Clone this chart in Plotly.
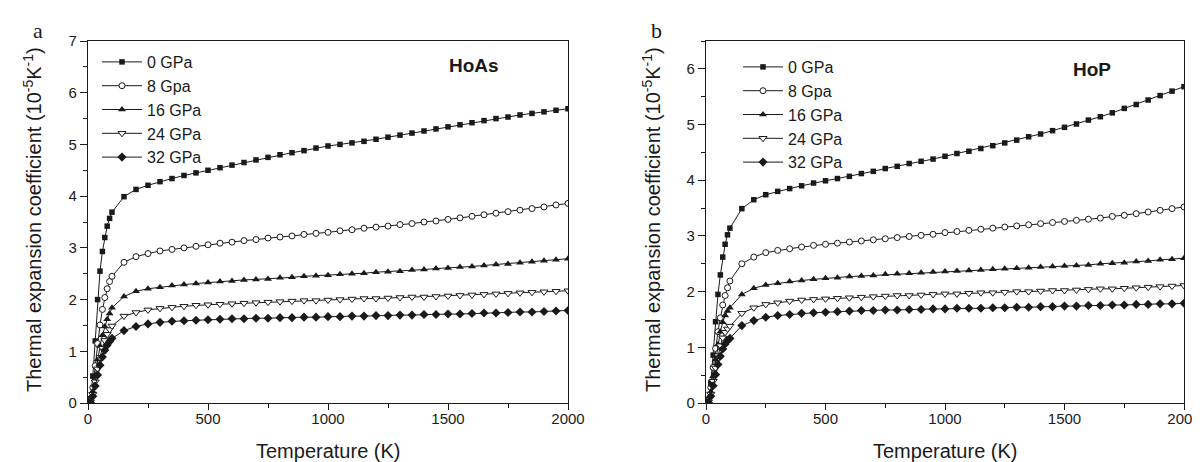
import plotly.graph_objects as go

# ---------------- data ----------------
temperature = [0, 10, 20, 30, 40, 50, 60, 70, 80, 90, 100,
               150, 200, 250, 300, 350, 400, 450, 500, 550, 600,
               650, 700, 750, 800, 850, 900, 950, 1000, 1050, 1100,
               1150, 1200, 1250, 1300, 1350, 1400, 1450, 1500, 1550, 1600,
               1650, 1700, 1750, 1800, 1850, 1900, 1950, 2000]

series_names = ["0 GPa", "8 Gpa", "16 GPa", "24 GPa", "32 GPa"]

hoas_0 = [0, 0.08, 0.52, 1.20, 2.00, 2.55, 2.93, 3.20, 3.42, 3.57, 3.69,
          3.99, 4.13, 4.21, 4.28, 4.34, 4.40, 4.45, 4.50, 4.55, 4.60,
          4.65, 4.70, 4.75, 4.80, 4.84, 4.88, 4.93, 4.97, 5.00, 5.03,
          5.06, 5.10, 5.14, 5.18, 5.22, 5.26, 5.30, 5.34, 5.38, 5.42,
          5.46, 5.50, 5.53, 5.57, 5.60, 5.63, 5.66, 5.69]
hoas_8 = [0, 0.04, 0.30, 0.72, 1.15, 1.51, 1.81, 2.04, 2.21, 2.35, 2.45,
          2.72, 2.83, 2.89, 2.94, 2.97, 3.00, 3.03, 3.06, 3.09, 3.11,
          3.14, 3.16, 3.19, 3.21, 3.23, 3.26, 3.28, 3.30, 3.33, 3.35,
          3.38, 3.40, 3.42, 3.45, 3.47, 3.50, 3.52, 3.55, 3.58, 3.61,
          3.64, 3.67, 3.70, 3.73, 3.76, 3.79, 3.83, 3.86]
hoas_16 = [0, 0.03, 0.22, 0.52, 0.84, 1.10, 1.31, 1.48, 1.62, 1.73, 1.84,
           2.06, 2.16, 2.21, 2.24, 2.27, 2.29, 2.31, 2.33, 2.35, 2.36,
           2.38, 2.39, 2.40, 2.42, 2.43, 2.45, 2.46, 2.47, 2.49, 2.50,
           2.51, 2.53, 2.54, 2.55, 2.57, 2.58, 2.60, 2.61, 2.63, 2.64,
           2.66, 2.68, 2.69, 2.71, 2.73, 2.75, 2.77, 2.79]
hoas_24 = [0, 0.02, 0.17, 0.41, 0.66, 0.88, 1.06, 1.21, 1.33, 1.42, 1.49,
           1.68, 1.75, 1.80, 1.83, 1.85, 1.87, 1.89, 1.90, 1.91, 1.92,
           1.93, 1.94, 1.95, 1.96, 1.97, 1.98, 1.98, 1.99, 2.00, 2.01,
           2.02, 2.02, 2.03, 2.04, 2.05, 2.05, 2.06, 2.07, 2.08, 2.09,
           2.10, 2.11, 2.12, 2.13, 2.14, 2.15, 2.16, 2.17]
hoas_32 = [0, 0.01, 0.13, 0.33, 0.54, 0.73, 0.89, 1.02, 1.12, 1.19, 1.25,
           1.40, 1.48, 1.53, 1.56, 1.58, 1.59, 1.60, 1.61, 1.62, 1.63,
           1.63, 1.64, 1.64, 1.65, 1.65, 1.66, 1.66, 1.67, 1.67, 1.68,
           1.68, 1.69, 1.69, 1.70, 1.70, 1.71, 1.71, 1.72, 1.72, 1.73,
           1.74, 1.74, 1.75, 1.76, 1.76, 1.77, 1.78, 1.79]

hop_0 = [0, 0.06, 0.36, 0.86, 1.46, 1.95, 2.30, 2.62, 2.85, 3.02, 3.14,
         3.49, 3.65, 3.74, 3.80, 3.85, 3.90, 3.95, 3.99, 4.03, 4.07,
         4.12, 4.16, 4.21, 4.25, 4.30, 4.34, 4.38, 4.43, 4.48, 4.52,
         4.57, 4.62, 4.67, 4.72, 4.78, 4.83, 4.89, 4.95, 5.01, 5.08,
         5.14, 5.21, 5.29, 5.36, 5.44, 5.52, 5.60, 5.68]
hop_8 = [0, 0.04, 0.28, 0.64, 0.98, 1.28, 1.53, 1.76, 1.93, 2.07, 2.19,
         2.50, 2.62, 2.70, 2.74, 2.77, 2.80, 2.83, 2.85, 2.87, 2.89,
         2.91, 2.93, 2.95, 2.97, 2.99, 3.01, 3.03, 3.06, 3.08, 3.10,
         3.12, 3.14, 3.16, 3.18, 3.20, 3.22, 3.24, 3.26, 3.28, 3.30,
         3.32, 3.35, 3.37, 3.40, 3.43, 3.46, 3.49, 3.52]
hop_16 = [0, 0.03, 0.20, 0.48, 0.78, 1.05, 1.28, 1.45, 1.57, 1.65, 1.71,
          1.95, 2.06, 2.12, 2.15, 2.18, 2.20, 2.22, 2.24, 2.25, 2.27,
          2.28, 2.29, 2.31, 2.32, 2.33, 2.34, 2.35, 2.36, 2.37, 2.38,
          2.39, 2.40, 2.41, 2.42, 2.43, 2.44, 2.45, 2.46, 2.47, 2.48,
          2.50, 2.51, 2.52, 2.54, 2.55, 2.57, 2.58, 2.60]
hop_24 = [0, 0.02, 0.16, 0.39, 0.63, 0.85, 1.03, 1.17, 1.27, 1.33, 1.38,
          1.61, 1.71, 1.77, 1.80, 1.83, 1.85, 1.86, 1.87, 1.88, 1.89,
          1.90, 1.91, 1.92, 1.93, 1.93, 1.94, 1.95, 1.96, 1.96, 1.97,
          1.98, 1.98, 1.99, 2.00, 2.00, 2.01, 2.02, 2.02, 2.03, 2.04,
          2.05, 2.05, 2.06, 2.07, 2.08, 2.09, 2.10, 2.11]
hop_32 = [0, 0.01, 0.12, 0.31, 0.51, 0.69, 0.84, 0.97, 1.06, 1.12, 1.16,
          1.39, 1.48, 1.54, 1.57, 1.59, 1.61, 1.62, 1.63, 1.64, 1.65,
          1.66, 1.66, 1.67, 1.67, 1.68, 1.68, 1.69, 1.69, 1.70, 1.70,
          1.70, 1.71, 1.71, 1.72, 1.72, 1.73, 1.73, 1.74, 1.74, 1.75,
          1.75, 1.76, 1.76, 1.77, 1.77, 1.78, 1.78, 1.79]

hoas_series = [hoas_0, hoas_8, hoas_16, hoas_24, hoas_32]
hop_series = [hop_0, hop_8, hop_16, hop_24, hop_32]

x_ticks = [0, 500, 1000, 1500, 2000]
x_title = "Temperature (K)"
y_title = "Thermal expansion coefficient (10<sup>-5</sup>K<sup>-1</sup>)"

# ---------------- style ----------------
INK = "#1a1a1a"
FONT = "Arial, 'Liberation Sans', sans-serif"
SERIF = "'Liberation Serif', 'Times New Roman', serif"
marker_styles = [
    dict(symbol="square", size=5.5, color=INK, line=dict(width=0)),
    dict(symbol="circle", size=6, color="white", line=dict(width=1, color=INK)),
    dict(symbol="triangle-up", size=7, color=INK, line=dict(width=0)),
    dict(symbol="triangle-down", size=7, color="white", line=dict(width=1, color=INK)),
    dict(symbol="diamond", size=7, color=INK, line=dict(width=0)),
]

fig = go.Figure()

for i, (name, ys) in enumerate(zip(series_names, hoas_series)):
    fig.add_trace(go.Scatter(
        x=temperature, y=ys, name=name, mode="lines+markers",
        line=dict(color=INK, width=1), marker=marker_styles[i],
        xaxis="x", yaxis="y", legend="legend"))

for i, (name, ys) in enumerate(zip(series_names, hop_series)):
    fig.add_trace(go.Scatter(
        x=temperature, y=ys, name=name, mode="lines+markers",
        line=dict(color=INK, width=1), marker=marker_styles[i],
        xaxis="x2", yaxis="y2", legend="legend2"))

ML, MR, MT, MB = 80, 24, 33, 67
W, H = 1200, 462
PW = W - ML - MR
PH = H - MT - MB


def px_x(px):
    return (px - ML) / PW


def px_y(py):
    return (H - MB - py) / PH


line_common = dict(
    showline=True, linecolor=INK, linewidth=1.2, mirror=True,
    ticks="outside", tickcolor=INK, tickwidth=1,
    showgrid=False, zeroline=False,
    tickfont=dict(family=FONT, size=15, color=INK),
)
xaxis_common = dict(range=[0, 2000], tickvals=x_ticks, ticklen=6, ticklabelstandoff=-4,
                    minor=dict(dtick=250, ticks="outside", ticklen=4, tickcolor=INK),
                    **line_common)
yaxis_common = dict(domain=[0, 1], dtick=1, ticklen=7,
                    minor=dict(dtick=0.5, ticks="outside", ticklen=4, tickcolor=INK),
                    **line_common)

fig.update_layout(
    width=W, height=H,
    margin=dict(l=ML, r=MR, t=MT, b=MB, autoexpand=False),
    paper_bgcolor="white", plot_bgcolor="white",
    font=dict(family=FONT, color=INK),
    xaxis=dict(domain=[0, px_x(560)], anchor="y", **xaxis_common),
    yaxis=dict(range=[0, 7], anchor="x", **yaxis_common),
    xaxis2=dict(domain=[px_x(698), px_x(1176)], anchor="y2", **xaxis_common),
    yaxis2=dict(range=[0, 6.5], anchor="x2", **yaxis_common),
    legend=dict(x=px_x(89), y=px_y(37), xanchor="left", yanchor="top",
                bgcolor="rgba(0,0,0,0)", font=dict(family=FONT, size=16, color=INK),
                tracegroupgap=0, itemwidth=40),
    legend2=dict(x=px_x(730), y=px_y(42), xanchor="left", yanchor="top",
                 bgcolor="rgba(0,0,0,0)", font=dict(family=FONT, size=16, color=INK),
                 tracegroupgap=0, itemwidth=40),
)

title_font = dict(family=FONT, size=20, color=INK)
annotations = [
    dict(text=x_title, x=px_x(320), y=px_y(443), font=title_font),
    dict(text=x_title, x=px_x(937), y=px_y(443), font=title_font),
    dict(text=y_title, x=px_x(24), y=px_y(212), textangle=-90, font=title_font),
    dict(text=y_title, x=px_x(643), y=px_y(212), textangle=-90, font=title_font),
    dict(text="<b>HoAs</b>", x=px_x(466), y=px_y(57),
         font=dict(family=FONT, size=19, color=INK)),
    dict(text="<b>HoP</b>", x=px_x(1084), y=px_y(61),
         font=dict(family=FONT, size=19, color=INK)),
    dict(text="a", x=px_x(30), y=px_y(22), font=dict(family=SERIF, size=22, color=INK)),
    dict(text="b", x=px_x(648), y=px_y(22), font=dict(family=SERIF, size=22, color=INK)),
]
for a in annotations:
    a.update(xref="paper", yref="paper", showarrow=False, xanchor="center", yanchor="middle")
fig.update_layout(annotations=annotations)

fig.write_html("out.html")
